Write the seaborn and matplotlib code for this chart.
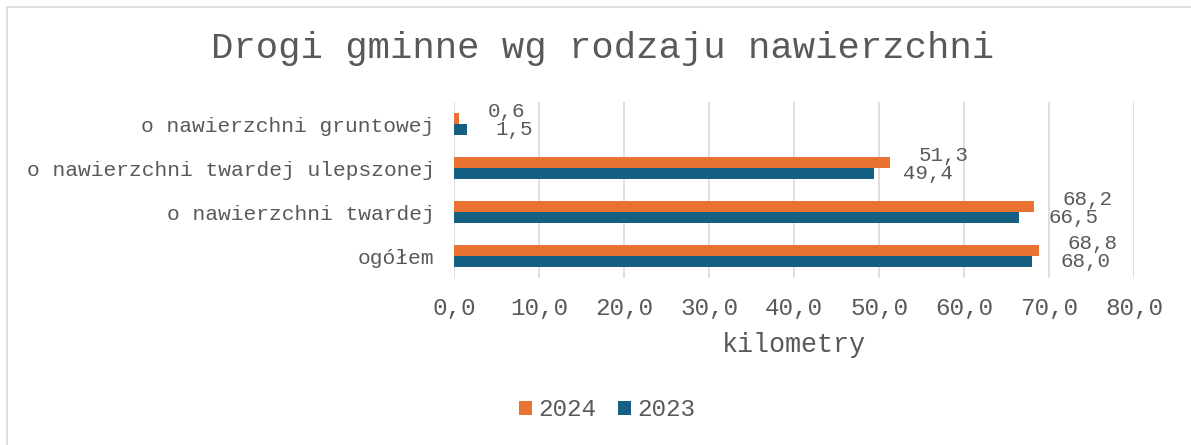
import matplotlib
matplotlib.use("Agg")
import matplotlib.pyplot as plt
from matplotlib.patches import Rectangle
import pandas as pd
import seaborn as sns

# data
categories = ["o nawierzchni gruntowej", "o nawierzchni twardej ulepszonej",
              "o nawierzchni twardej", "ogółem"]
years = ["2024", "2023"]
km_2024 = [0.6, 51.3, 68.2, 68.8]
km_2023 = [1.5, 49.4, 66.5, 68.0]
x_ticks = [0, 10, 20, 30, 40, 50, 60, 70, 80]

colors = {"2024": "#E97132", "2023": "#156082"}
text_col = "#595959"
grid_col = "#D9D9D9"


def pl(v):
    return f"{v:.1f}".replace(".", ",")


def main():
    df = pd.DataFrame({
        "kat": categories * 2,
        "rok": ["2024"] * 4 + ["2023"] * 4,
        "km": km_2024 + km_2023,
    })

    sns.set_style("white")
    plt.rcParams["font.family"] = ["Liberation Mono", "DejaVu Sans Mono"]

    fig = plt.figure(figsize=(11.91, 4.45), dpi=100)
    ax = fig.add_axes([454 / 1191, 1 - 278 / 445, 680 / 1191, 176 / 445])

    sns.barplot(data=df, x="km", y="kat", hue="rok", hue_order=years,
                order=categories, palette=colors, orient="h", width=0.52,
                linewidth=0, saturation=1, ax=ax, legend=True)

    ax.set_xlim(0, 80)
    ax.set_xticks(x_ticks)
    ax.set_xticklabels([pl(t) for t in x_ticks], fontsize=17.5, color=text_col)
    ax.tick_params(axis="x", length=0, pad=14)
    ax.tick_params(axis="y", length=0, pad=14, labelsize=15.3, labelcolor=text_col)
    ax.set_ylabel("")
    ax.set_xlabel("kilometry", fontsize=19.3, color=text_col, labelpad=8)
    ax.grid(axis="x", color=grid_col, linewidth=1.2)
    ax.set_axisbelow(True)
    for s in ax.spines.values():
        s.set_visible(False)

    # value labels next to bar ends
    for cont, yr in zip(ax.containers, years):
        dy = 7 if yr == "2024" else 0
        for bar in cont:
            w = bar.get_width()
            yc = bar.get_y() + bar.get_height() / 2
            ax.annotate(pl(w), xy=(w, yc), xytext=(29, dy),
                        textcoords="offset pixels", ha="left", va="center",
                        fontsize=15, color=text_col, annotation_clip=False)

    leg = ax.legend(loc="center", bbox_to_anchor=(607 / 1191, 1 - 410 / 445),
                    bbox_transform=fig.transFigure, ncol=2, frameon=False,
                    fontsize=17.5, handlelength=0.55, handleheight=0.55,
                    handletextpad=0.25, columnspacing=0.9)
    for t in leg.get_texts():
        t.set_color(text_col)

    fig.text(603 / 1191, 1 - 48 / 445, "Drogi gminne wg rodzaju nawierzchni",
             ha="center", va="center", fontsize=26.8, color=text_col)

    fig.patches.append(Rectangle((7 / 1191, -0.1), 1.2, 1.1 - 7 / 445,
                                 transform=fig.transFigure, fill=False,
                                 edgecolor=grid_col, linewidth=1.2))

    fig.savefig("out.png", dpi=100, facecolor="white")


main()
